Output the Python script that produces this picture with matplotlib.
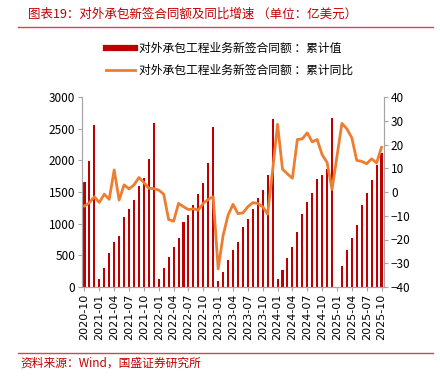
import numpy as np
import pandas as pd
import matplotlib
matplotlib.use("Agg")
import matplotlib.pyplot as plt
from matplotlib.lines import Line2D

plt.rcParams['font.family'] = ['Noto Sans CJK SC', 'DejaVu Sans']

months = pd.period_range('2020-10', '2025-10', freq='M').strftime('%Y-%m').tolist()

# 累计值（亿美元），2025-01 缺失
cum_value = [1660, 1994, 2561,
             133, 302, 530, 710, 811, 1103, 1225, 1378, 1590, 1718, 2020, 2588,
             133, 302, 467, 626, 779, 1034, 1129, 1288, 1463, 1649, 1962, 2529,
             90, 239, 430, 583, 716, 944, 1071, 1230, 1400, 1532, 1776, 2651,
             122, 265, 456, 626, 864, 1145, 1336, 1490, 1713, 1776, 1861, 2672,
             np.nan, 339, 583, 769, 981, 1288, 1490, 1697, 1925, 2111]

# 累计同比（%）
cum_yoy = [-5.9, -4.5, -2.0,
           -4.4, -0.9, -3.1, 9.3, -3.4, 3.0, 1.3, 3.0, 6.1, 4.0, 1.6, 1.4,
           0.8, -0.9, -11.6, -12.3, -4.8, -6.2, -7.4, -7.1, -7.6, -4.8, -3.1, -2.0,
           -32.4, -18.3, -9.8, -5.2, -9.1, -8.8, -6.2, -4.5, -4.8, -6.2, -9.3, 9.0,
           28.5, 9.6, 7.6, 5.8, 22.1, 22.4, 24.9, 21.1, 22.1, 15.7, 12.5, 1.1,
           np.nan, 28.9, 26.6, 22.8, 13.3, 12.9, 11.9, 14.0, 12.2, 18.8]

red = '#C00000'
orange = '#ED7D31'
grey = '#A6A6A6'

fig = plt.figure(figsize=(4.4, 3.81), dpi=100)
ax = fig.add_axes([82/440, 1-287/381, 302/440, 190/381])
ax2 = ax.twinx()

x = np.arange(len(months))
ax.bar(x, cum_value, width=0.42, color=red, zorder=2)

yoy = pd.Series(cum_yoy, index=x).dropna()
ax2.plot(yoy.index, yoy.values, color=orange, lw=2.0, zorder=3)

ax.set_xlim(-0.5, len(months) - 0.5)
ax.set_ylim(0, 3000)
ax.set_yticks(range(0, 3001, 500))
ax2.set_ylim(-40, 40)
ax2.set_yticks(range(-40, 41, 10))

ax.set_xticks(x[::3])
ax.set_xticklabels(months[::3], rotation=90, fontsize=8, family='DejaVu Sans')
ax.tick_params(axis='y', labelsize=8.5, length=3, color=grey, pad=2)
ax2.tick_params(axis='y', labelsize=8.5, length=3, color=grey, pad=2)
ax.tick_params(axis='x', length=3, color=grey, pad=2)

for a in (ax, ax2):
    a.spines['top'].set_visible(False)
    for s in ('left', 'right', 'bottom'):
        a.spines[s].set_color(grey)
ax.set_zorder(ax2.get_zorder() - 1)
ax2.patch.set_visible(False)
ax.patch.set_visible(False)

handles = [Line2D([], [], color=red, lw=4.5),
           Line2D([], [], color=orange, lw=2)]
labels = ['对外承包工程业务新签合同额 ：累计值', '对外承包工程业务新签合同额 ：累计同比']
fig.legend(handles, labels, loc='upper left', bbox_to_anchor=(100/440, 1-36/381),
           frameon=False, fontsize=8.5, handlelength=2.5, labelspacing=0.75,
           handletextpad=0.3, borderpad=0)

fig.text(28/440, 1-14/381, '图表19：对外承包新签合同额及同比增速 （单位：亿美元）',
         color=red, fontsize=9, style='italic', va='center', ha='left')
fig.add_artist(Line2D([18/440, 433/440], [1-26.5/381, 1-26.5/381], color='#C0504D', lw=1))
fig.add_artist(Line2D([18/440, 433/440], [1-352.5/381, 1-352.5/381], color='#C0504D', lw=1))
fig.text(20/440, 1-363/381, '资料来源：Wind，国盛证券研究所',
         color=red, fontsize=8.5, style='italic', va='center', ha='left')

fig.savefig('out.png', dpi=100)
